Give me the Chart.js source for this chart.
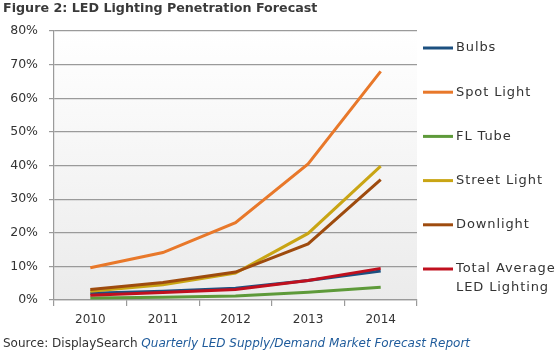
<!DOCTYPE html>
<html>
<head>
<meta charset="utf-8">
<script src="https://cdn.jsdelivr.net/npm/chart.js@4/dist/chart.umd.min.js"></script>
<style>
  html, body { margin: 0; padding: 0; background: #fff; }
  #wrap { position: relative; width: 560px; height: 354px; overflow: hidden; }
  #c { position: absolute; left: 0; top: 0; }
  #title { position: absolute; left: 3px; top: 0px; font: bold 12.7px "DejaVu Sans", Verdana, sans-serif; color: #3a3a3a; white-space: nowrap; }
  #source { position: absolute; left: 3px; top: 336px; font: 12px "DejaVu Sans", Verdana, sans-serif; color: #333; white-space: nowrap; }
  #source i { color: #1f5b9b; }
</style>
</head>
<body>
<div id="wrap">
  <canvas id="c" width="560" height="354"></canvas>
  <div id="title">Figure 2: LED Lighting Penetration Forecast</div>
  <div id="source">Source: DisplaySearch <i>Quarterly LED Supply/Demand Market Forecast Report</i></div>
</div>
<script>
// ---- data ----
const years = ['2010', '2011', '2012', '2013', '2014'];
const bulbs = [2.0, 2.6, 3.5, 5.8, 8.6];
const spotLight = [9.6, 14.1, 23.0, 40.5, 68.0];
const flTube = [0.6, 0.8, 1.2, 2.3, 3.8];
const streetLight = [2.6, 4.5, 8.0, 19.8, 39.8];
const downlight = [3.1, 5.2, 8.3, 16.7, 35.8];
const totalAverage = [1.4, 2.2, 3.1, 5.8, 9.4];
const seriesNames = ['Bulbs', 'Spot Light', 'FL Tube', 'Street Light', 'Downlight', ['Total Average', 'LED Lighting']];
const yTicks = [0, 10, 20, 30, 40, 50, 60, 70, 80];

const seriesValues = [bulbs, spotLight, flTube, streetLight, downlight, totalAverage];
const seriesColors = ['#1d5080', '#e8782a', '#5e9a3a', '#c9a514', '#9e4b0e', '#c0101e'];

const bgPlugin = {
  id: 'bg',
  beforeDraw(chart) {
    const { ctx, chartArea: a } = chart;
    const g = ctx.createLinearGradient(0, a.top, 0, a.bottom);
    g.addColorStop(0, '#ffffff');
    g.addColorStop(1, '#ebebeb');
    ctx.save();
    ctx.fillStyle = g;
    ctx.fillRect(a.left, a.top, a.right - a.left, a.bottom - a.top);
    ctx.restore();
  }
};

const legendPlugin = {
  id: 'customLegend',
  afterDraw(chart) {
    const ctx = chart.ctx;
    ctx.save();
    ctx.font = '13px "DejaVu Sans", Verdana, sans-serif';
    try { ctx.letterSpacing = '0.9px'; } catch (e) {}
    ctx.textBaseline = 'middle';
    ctx.fillStyle = '#333';
    const x0 = 423, x1 = 453, tx = 456, y0 = 48, step = 44.2;
    chart.data.datasets.forEach((ds, i) => {
      const y = y0 + i * step;
      ctx.strokeStyle = ds.borderColor;
      ctx.lineWidth = 3;
      ctx.beginPath();
      ctx.moveTo(x0, y);
      ctx.lineTo(x1, y);
      ctx.stroke();
      const lines = Array.isArray(ds.label) ? ds.label : [ds.label];
      lines.forEach((t, j) => ctx.fillText(t, tx, y + j * 18.5));
    });
    ctx.restore();
  }
};

new Chart(document.getElementById('c'), {
  type: 'line',
  data: {
    labels: years,
    datasets: seriesValues.map((vals, i) => ({
      label: seriesNames[i],
      data: vals,
      borderColor: seriesColors[i],
      backgroundColor: seriesColors[i],
      borderWidth: 3,
      pointRadius: 0,
      tension: 0,
      order: 10 - i
    }))
  },
  options: {
    responsive: false,
    animation: false,
    devicePixelRatio: 1,
    layout: { padding: { left: 0, top: 31, right: 143, bottom: 24 } },
    plugins: { legend: { display: false }, tooltip: { enabled: false }, title: { display: false } },
    scales: {
      x: {
        type: 'category',
        offset: true,
        afterFit(s) { s.height = 30; },
        grid: { offset: true, drawOnChartArea: false, drawTicks: true, tickLength: 6, color: '#9a9a9a', lineWidth: 1.2 },
        border: { color: '#9a9a9a', width: 1.2 },
        ticks: { color: '#333', padding: 7, font: { family: '"DejaVu Sans", Verdana, sans-serif', size: 12 }, maxRotation: 0 }
      },
      y: {
        min: 0,
        max: 80,
        afterFit(s) { s.width = 54; },
        afterBuildTicks(s) { s.ticks = yTicks.map(v => ({ value: v })); },
        grid: { color: '#9a9a9a', lineWidth: 1.2, tickLength: 5, drawTicks: true },
        border: { color: '#9a9a9a', width: 1.2 },
        ticks: { color: '#333', padding: 11, font: { family: '"DejaVu Sans", Verdana, sans-serif', size: 12.5 }, callback: v => v + '%' }
      }
    }
  },
  plugins: [bgPlugin, legendPlugin]
});
</script>
</body>
</html>
